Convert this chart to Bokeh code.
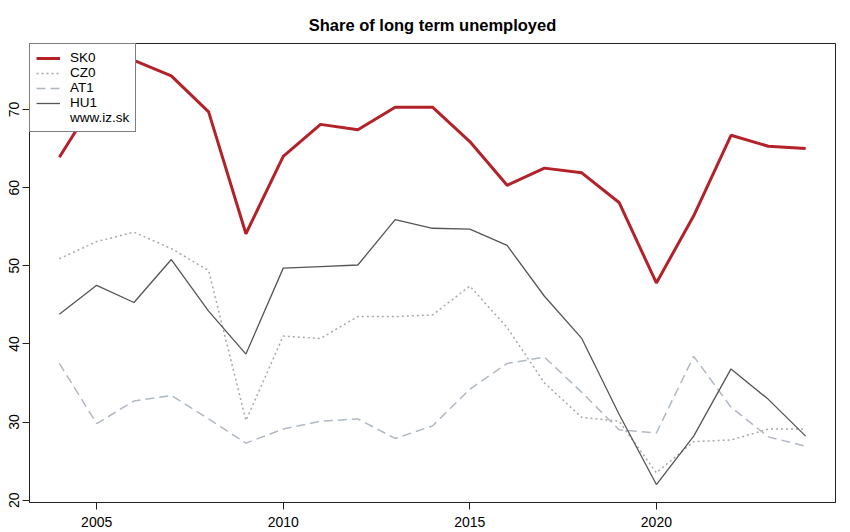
from bokeh.plotting import figure
from bokeh.models import Range1d, FixedTicker, Legend, LegendItem, Title
from bokeh.embed import file_html
from bokeh.resources import INLINE

years = list(range(2004, 2025))
sk0 = [63.9, 71.5, 76.3, 74.3, 69.7, 54.1, 64.0, 68.1, 67.4, 70.3, 70.3, 65.9, 60.3, 62.5, 61.9, 58.1, 47.8, 56.4, 66.7, 65.3, 65.0]
cz0 = [50.9, 53.1, 54.3, 52.2, 49.4, 30.2, 41.0, 40.7, 43.5, 43.5, 43.7, 47.4, 42.1, 35.0, 30.6, 30.1, 23.5, 27.5, 27.7, 29.1, 29.1]
at1 = [37.5, 29.8, 32.7, 33.4, 30.4, 27.3, 29.1, 30.1, 30.4, 27.9, 29.5, 34.2, 37.5, 38.3, 33.8, 29.0, 28.6, 38.4, 31.9, 28.1, 26.9]
hu1 = [43.8, 47.5, 45.3, 50.8, 44.2, 38.7, 49.7, 49.9, 50.1, 55.9, 54.8, 54.7, 52.6, 46.1, 40.7, 31.0, 22.0, 28.2, 36.8, 32.9, 28.2]
x_ticks = [2005, 2010, 2015, 2020]
y_ticks = [20, 30, 40, 50, 60, 70]
title_text = "Share of long term unemployed"
FONT = "Liberation Sans"

p = figure(width=850, height=532, output_backend="svg", toolbar_location=None,
           x_range=Range1d(2003.2, 2024.8), y_range=Range1d(19.7, 78.45),
           min_border_left=29, min_border_right=15, min_border_top=43, min_border_bottom=30)
p.title = Title(text=title_text, align="center", text_font=FONT, text_font_size="16.5px",
                text_font_style="bold", text_color="black", offset=0, standoff=19)

r_sk = p.line(years, sk0, line_color="#B22228", line_width=3)
r_cz = p.line(years, cz0, line_color="#A8A8A8", line_width=1.5, line_dash="2 3")
r_at = p.line(years, at1, line_color="#B0B8C2", line_width=1.5, line_dash="9 5")
r_hu = p.line(years, hu1, line_color="#555555", line_width=1.3)
r_www = p.line([2004, 2005], [50, 50], line_alpha=0)

p.xgrid.visible = False
p.ygrid.visible = False
p.outline_line_color = "#222222"
p.outline_line_width = 1

for ax in (p.xaxis[0], p.yaxis[0]):
    ax.minor_tick_line_color = None
    ax.major_tick_in = 0
    ax.major_tick_out = 7
    ax.axis_line_color = "#222222"
    ax.major_tick_line_color = "#222222"
    ax.major_label_text_font = FONT
    ax.major_label_text_font_size = "14px"
    ax.major_label_text_color = "black"
p.xaxis[0].ticker = FixedTicker(ticks=x_ticks)
p.yaxis[0].ticker = FixedTicker(ticks=y_ticks)
p.yaxis[0].major_label_orientation = "vertical"
p.xaxis[0].major_label_standoff = 7
p.yaxis[0].major_label_standoff = 3

legend = Legend(items=[
    LegendItem(label="SK0", renderers=[r_sk]),
    LegendItem(label="CZ0", renderers=[r_cz]),
    LegendItem(label="AT1", renderers=[r_at]),
    LegendItem(label="HU1", renderers=[r_hu]),
    LegendItem(label="www.iz.sk", renderers=[r_www]),
], location="top_left", margin=0, padding=6, spacing=-1,
   label_height=14, glyph_height=14, glyph_width=24, label_standoff=10,
   label_text_font=FONT, label_text_font_size="13.5px", label_text_color="black",
   border_line_color="black", border_line_width=1, background_fill_alpha=1)
p.add_layout(legend)

open("out.html", "w").write(file_html(p, INLINE))
